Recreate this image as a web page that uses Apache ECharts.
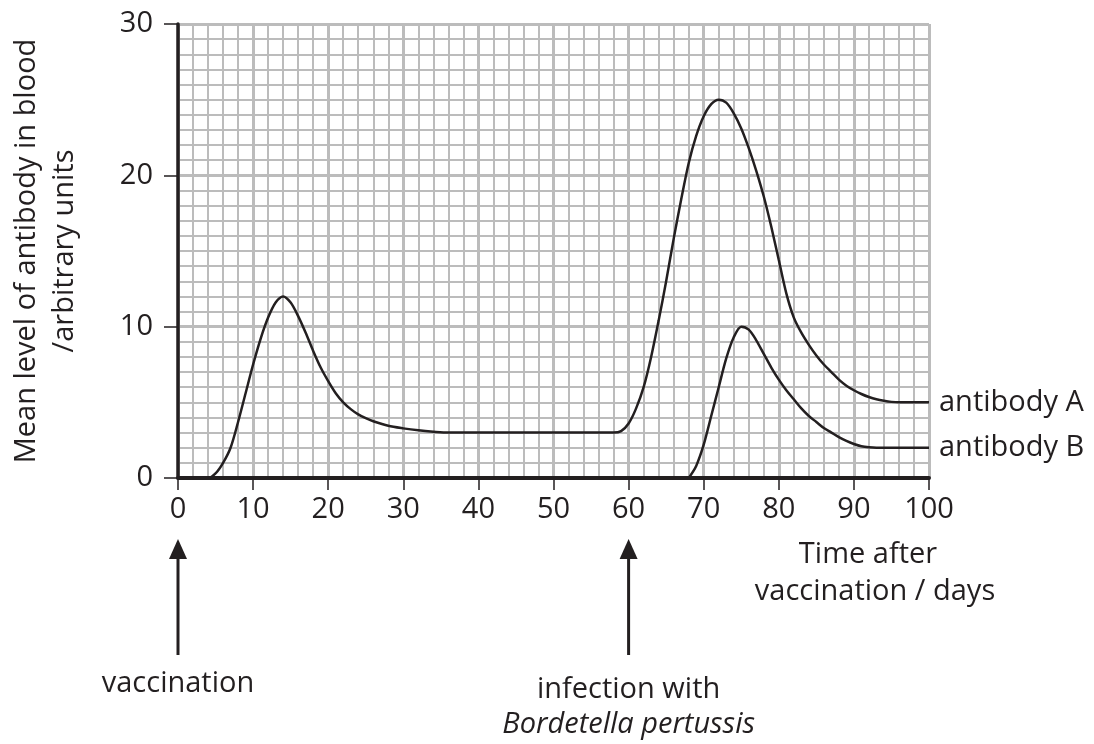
<!DOCTYPE html>
<html>
  <head>
    <meta charset="utf-8" />
    <title>Antibody levels</title>
    <script src="https://cdn.jsdelivr.net/npm/echarts@6/dist/echarts.min.js"></script>
    <style>
      html, body { margin: 0; padding: 0; background: #fff; }
    </style>
  </head>
  <body>
    <div id="main" style="width: 1094px; height: 744px"></div>
  </body>

  <script>
    // values: [day, level]
    var antibodyA = [
      [0, 0], [4, 0], [5, 0.3], [6, 1], [7, 2], [8, 3.7], [9, 5.6], [10, 7.5],
      [11, 9.2], [12, 10.6], [13, 11.6], [14, 12], [15, 11.6], [16, 10.7], [17, 9.6],
      [18, 8.4], [19, 7.3], [20, 6.4], [21, 5.6], [22, 5], [23, 4.55], [24, 4.2],
      [25, 3.95], [26, 3.75], [28, 3.45], [30, 3.28], [32, 3.15], [34, 3.06], [36, 3],
      [40, 3], [45, 3], [50, 3], [55, 3], [58, 3], [59, 3.1], [60, 3.6], [61, 4.6],
      [62, 6], [63, 8], [64, 10.4], [65, 13], [66, 15.8], [67, 18.4], [68, 20.8],
      [69, 22.6], [70, 23.9], [71, 24.7], [72, 25], [73, 24.8], [74, 24.1], [75, 23.1],
      [76, 21.8], [77, 20.3], [78, 18.6], [79, 16.6], [80, 14.4], [81, 12.2], [82, 10.6],
      [83, 9.6], [84, 8.8], [85, 8.1], [86, 7.5], [87, 7], [88, 6.5], [89, 6.1],
      [90, 5.8], [91, 5.55], [92, 5.35], [93, 5.2], [94, 5.1], [95, 5.03], [96, 5], [100, 5]
    ];
    var antibodyB = [
      [68, 0], [69, 0.8], [70, 2.2], [71, 4.1], [72, 6], [73, 7.9], [74, 9.3], [75, 10],
      [76, 9.8], [77, 9.1], [78, 8.2], [79, 7.3], [80, 6.5], [81, 5.8], [82, 5.2],
      [83, 4.6], [84, 4.1], [85, 3.7], [86, 3.3], [87, 3], [88, 2.7], [89, 2.45],
      [90, 2.25], [91, 2.1], [92, 2.03], [93, 2], [97, 2], [100, 2]
    ];
    var events = [
      { day: 0, lines: ["vaccination"] },
      { day: 60, lines: ["infection with", "Bordetella pertussis"] }
    ];

    var ink = "#231f20";
    var paper = "#bcbcbc";
    var font = "Open Sans";

    var myChart = echarts.init(document.getElementById("main"));

    var option = {
      backgroundColor: "#fff",
      animation: false,
      textStyle: { fontFamily: font, color: ink },
      grid: { left: 172, right: 165, top: 24, bottom: 266, containLabel: false },
      xAxis: {
        type: "value",
        min: 0,
        max: 100,
        interval: 10,
        axisLine: { show: true, lineStyle: { color: ink, width: 4 } },
        axisTick: { show: true, length: 12, lineStyle: { color: ink, width: 1.5 } },
        axisLabel: { margin: 17, fontSize: 29, color: ink, fontFamily: font },
        splitLine: { show: true, lineStyle: { color: paper, width: 3 } },
        minorTick: { show: false, splitNumber: 5 },
        minorSplitLine: { show: true, lineStyle: { color: paper, width: 2 } }
      },
      yAxis: {
        type: "value",
        min: 0,
        max: 30,
        interval: 10,
        name: "Mean level of antibody in blood\n/arbitrary units",
        nameLocation: "middle",
        nameGap: 94,
        nameTextStyle: { fontSize: 29, color: ink, fontFamily: font, lineHeight: 38 },
        axisLine: { show: true, lineStyle: { color: ink, width: 3.5 } },
        axisTick: { show: true, length: 14, lineStyle: { color: ink, width: 1.5 } },
        axisLabel: { margin: 25, fontSize: 29, color: ink, fontFamily: font },
        splitLine: { show: true, lineStyle: { color: paper, width: 3 } },
        minorTick: { show: false, splitNumber: 10 },
        minorSplitLine: { show: true, lineStyle: { color: paper, width: 2 } }
      },
      series: [
        {
          name: "antibody A",
          type: "line",
          data: antibodyA,
          smooth: 0.3,
          showSymbol: false,
          lineStyle: { color: ink, width: 2.5 },
          endLabel: { show: true, formatter: "{a}", fontSize: 29, color: ink, fontFamily: font, distance: 10 },
          z: 3
        },
        {
          name: "antibody B",
          type: "line",
          data: antibodyB,
          smooth: 0.3,
          showSymbol: false,
          lineStyle: { color: ink, width: 2.5 },
          endLabel: { show: true, formatter: "{a}", fontSize: 29, color: ink, fontFamily: font, distance: 10 },
          z: 3
        }
      ]
    };

    myChart.setOption(option);

    // arrows and notes under the axis, placed at the event days
    var graphics = [];
    events.forEach(function (ev) {
      var px = myChart.convertToPixel({ xAxisIndex: 0 }, ev.day);
      graphics.push({
        type: "line",
        shape: { x1: px, y1: 556, x2: px, y2: 655 },
        style: { stroke: ink, lineWidth: 3 }
      });
      graphics.push({
        type: "polygon",
        shape: { points: [[px, 539], [px - 9, 559], [px + 9, 559]] },
        style: { fill: ink }
      });
      ev.lines.forEach(function (txt, i) {
        graphics.push({
          type: "text",
          x: px,
          y: (ev.lines.length > 1 ? 690 : 684) + i * 35,
          style: {
            text: txt,
            fontSize: 29,
            fontFamily: font,
            fontStyle: i === 1 ? "italic" : "normal",
            fill: ink,
            align: "center",
            verticalAlign: "middle"
          }
        });
      });
    });
    graphics.push({
      type: "text",
      x: 868,
      y: 555,
      style: { text: "Time after", fontSize: 29, fontFamily: font, fill: ink, align: "center", verticalAlign: "middle" }
    });
    graphics.push({
      type: "text",
      x: 875,
      y: 592,
      style: { text: "vaccination / days", fontSize: 29, fontFamily: font, fill: ink, align: "center", verticalAlign: "middle" }
    });

    myChart.setOption({ graphic: graphics });
  </script>
</html>
